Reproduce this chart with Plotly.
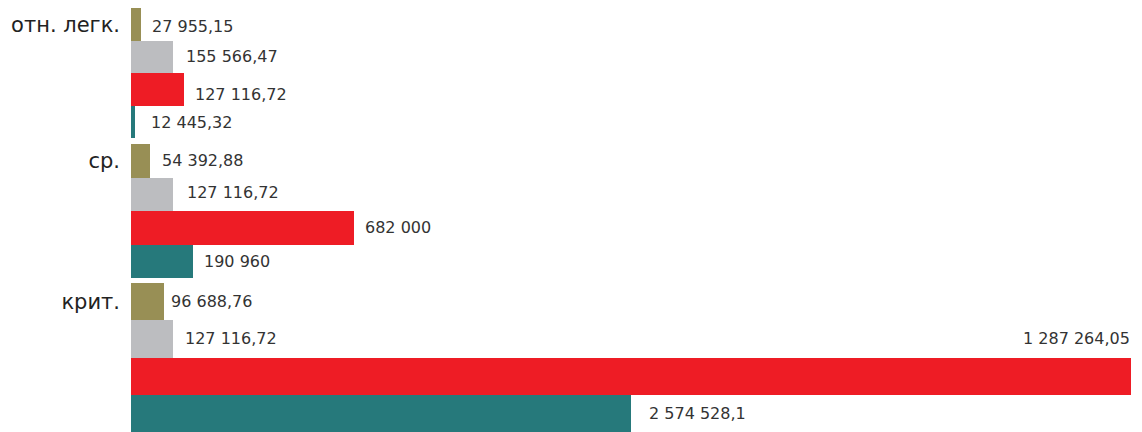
import plotly.graph_objects as go

# ---- data ----
categories = ["отн. легк.", "ср.", "крит."]
series_names = ["olive", "gray", "red", "teal"]

# bar lengths (same scale as the longest bar = 1 287 264,05)
len_olive = [12873, 24458, 42480]
len_gray = [54065, 54065, 54065]
len_red = [68225, 287060, 1287264.05]
len_teal = [5149, 79810, 643632]

# value labels as printed on the chart
lab_olive = ["27 955,15", "54 392,88", "96 688,76"]
lab_gray = ["155 566,47", "127 116,72", "127 116,72"]
lab_red = ["127 116,72", "682 000", "1 287 264,05"]
lab_teal = ["12 445,32", "190 960", "2 574 528,1"]

# ---- style / layout ----
colors = ["#988f55", "#bcbdc0", "#ee1c25", "#26797b"]
group_top = [0, 136, 275]
bar_h = [32.6, 33.5, 37.25]
W, H = 1134, 424
# label pixel offsets (series x group)
label_dx = [[9, 10, 5], [11, 12, 10], [9, 9, 1], [14, 9, 16]]
label_dy = [[-2, 0, 0], [0, 2, 0], [-5, 0, 0], [0, 0, 0]]

lengths = [len_olive, len_gray, len_red, len_teal]
labels = [lab_olive, lab_gray, lab_red, lab_teal]

def center(g, s):
    return group_top[g] + (s + 0.5) * bar_h[g]

fig = go.Figure()
annotations = []
for s in range(4):
    ys = [center(g, s) for g in range(3)]
    fig.add_trace(go.Bar(
        orientation="h",
        x=lengths[s],
        y=ys,
        width=bar_h,
        marker=dict(color=colors[s], line=dict(width=0)),
        name=series_names[s],
        hoverinfo="skip",
    ))
    for g in range(3):
        if s == 2 and g == 2:
            # label of the longest bar sits above it, right aligned
            annotations.append(dict(
                x=lengths[s][g], y=center(g, 1), xref="x", yref="y",
                text=labels[s][g], showarrow=False, xanchor="right",
                xshift=label_dx[s][g], yshift=label_dy[s][g],
                font=dict(family="DejaVu Sans", size=16, color="#333333"),
            ))
        else:
            annotations.append(dict(
                x=lengths[s][g], y=ys[g], xref="x", yref="y",
                text=labels[s][g], showarrow=False, xanchor="left",
                xshift=label_dx[s][g], yshift=label_dy[s][g],
                font=dict(family="DejaVu Sans", size=16, color="#333333"),
            ))

xmax = max(max(l) for l in lengths)

fig.update_layout(
    width=W, height=H,
    margin=dict(l=123, r=11, t=0, b=0, pad=0),
    paper_bgcolor="white", plot_bgcolor="white",
    showlegend=False,
    bargap=0,
    annotations=annotations,
    xaxis=dict(visible=False, range=[0, xmax], fixedrange=True),
    yaxis=dict(
        range=[H, 0],
        tickvals=[center(g, 0) for g in range(3)],
        ticktext=categories,
        ticks="",
        showgrid=False, zeroline=False, showline=False,
        tickfont=dict(family="DejaVu Sans", size=21, color="#222222"),
        ticklabelstandoff=10,
    ),
)

fig.write_html("out.html")
